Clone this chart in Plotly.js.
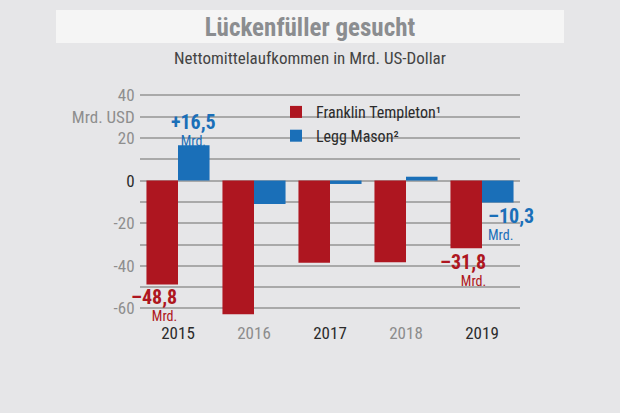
<!DOCTYPE html>
<html>
<head>
<meta charset="utf-8">
<script src="https://cdn.plot.ly/plotly-3.0.1.min.js"></script>
<style>
html,body{margin:0;padding:0;background:#e6e6e8;}
#chart{width:620px;height:413px;}
</style>
</head>
<body>
<div id="chart"></div>
<script>
// ---- data ----
var years = ['2015', '2016', '2017', '2018', '2019'];
var franklin = [-48.8, -62.7, -38.6, -38.3, -31.8];
var leggMason = [16.5, -11.0, -1.6, 1.8, -10.3];
var seriesNames = ['Franklin Templeton\u00B9', 'Legg Mason\u00B2'];
var yTickVals = [-60, -50, -40, -30, -20, -10, 0, 10, 20, 30, 40];
var yTickLabels = ['-60', '', '-40', '', '-20', '', '0', '', '20', 'Mrd. USD', '40'];
var yearColors = ['#2b2b2b', '#8c8c8c', '#2b2b2b', '#8c8c8c', '#2b2b2b'];
var titleText = 'Lückenfüller gesucht';
var subtitleText = 'Nettomittelaufkommen in Mrd. US-Dollar';
var unitText = 'Mrd.';

var FONT = '"Liberation Sans Narrow", "Roboto Condensed", "DejaVu Sans Condensed", "Liberation Sans", sans-serif';
var RED = '#ae1620';
var BLUE = '#1a6fb8';

// plot area in pixels (for paper-coordinate decorations)
var PL = 140, PR = 520, PT = 91, PB = 317;
function px2paperX(x) { return (x - PL) / (PR - PL); }
function px2paperY(y) { return (PB - y) / (PB - PT); }

function fmt(v) {
  return (v > 0 ? '+' : '\u2013') + Math.abs(v).toFixed(1).replace('.', ',');
}

var traces = [
  {type: 'bar', name: seriesNames[0], x: years, y: franklin, marker: {color: RED}},
  {type: 'bar', name: seriesNames[1], x: years, y: leggMason, marker: {color: BLUE}}
];

var half = 0.2075;
// value labels: [series, index, align/anchor, xshift, yshift(down)]
var labelSpecs = [
  [1, 0, 'center', 0, -16],
  [0, 0, 'right', 17, 20],
  [0, 4, 'right', 22, 21],
  [1, 4, 'left', -12, 21]
];
var annotations = [];
labelSpecs.forEach(function (s) {
  var vals = s[0] === 0 ? franklin : leggMason;
  var col = s[0] === 0 ? RED : BLUE;
  var xpos = s[1] + (s[0] === 0 ? -half : half);
  var v = vals[s[1]];
  annotations.push({
    x: xpos, y: v, xref: 'x', yref: 'y', showarrow: false,
    text: '<span style="font-size:20px"><b>' + fmt(v) + '</b></span><br><span style="font-size:14px">' + unitText + '</span>',
    font: {family: FONT, size: 13, color: col},
    align: s[2], xanchor: s[2], yanchor: 'middle',
    xshift: s[3], yshift: -s[4]
  });
});
annotations.push({
  x: px2paperX(310), y: px2paperY(58), xref: 'paper', yref: 'paper', xanchor: 'center', yanchor: 'middle',
  showarrow: false, text: subtitleText, font: {family: FONT, size: 17, color: '#444444'}
});

var layout = {
  width: 620, height: 413,
  paper_bgcolor: '#e6e6e8', plot_bgcolor: '#e6e6e8',
  margin: {l: PL, r: 620 - PR, t: PT, b: 413 - PB},
  font: {family: FONT},
  title: {
    text: '<b>' + titleText + '</b>', x: 0.5, xanchor: 'center', xref: 'container',
    y: 1 - 27 / 413, yanchor: 'middle', yref: 'container',
    font: {family: FONT, size: 25, color: '#8b8d90'}
  },
  barmode: 'group', bargap: 0.17, bargroupgap: 0,
  xaxis: {
    type: 'category', range: [-0.5, 4.5], showgrid: false, zeroline: false, showline: false,
    tickvals: years,
    ticktext: years.map(function (y, i) { return '<span style="color:' + yearColors[i] + '">' + y + '</span>'; }),
    tickfont: {family: FONT, size: 17, color: '#2b2b2b'},
    ticks: 'outside', ticklen: 1, tickcolor: 'rgba(0,0,0,0)'
  },
  yaxis: {
    range: [-64, 42], tickmode: 'array', tickvals: yTickVals,
    ticktext: yTickLabels.map(function (t) {
      return t === '0' ? '<span style="color:#2b2b2b">0</span>' : t;
    }),
    tickfont: {family: FONT, size: 17, color: '#8e8e8e'},
    showgrid: true, gridcolor: '#a9a9a9', gridwidth: 2,
    zeroline: true, zerolinecolor: '#a9a9a9', zerolinewidth: 2, showline: false,
    ticks: 'outside', ticklen: 1, tickcolor: 'rgba(0,0,0,0)'
  },
  showlegend: true,
  legend: {
    x: px2paperX(276), y: px2paperY(95), xanchor: 'left', yanchor: 'top', bgcolor: 'rgba(0,0,0,0)',
    font: {family: FONT, size: 16, color: '#2b2b2b'}, traceorder: 'normal',
    itemwidth: 30, tracegroupgap: 0
  },
  shapes: [{
    type: 'rect', xref: 'paper', yref: 'paper', layer: 'below',
    x0: px2paperX(56), x1: px2paperX(564), y0: px2paperY(43), y1: px2paperY(10),
    fillcolor: '#f5f5f5', line: {width: 0}
  }],
  annotations: annotations
};

Plotly.newPlot('chart', traces, layout, {displayModeBar: false, staticPlot: true});
</script>
</body>
</html>
